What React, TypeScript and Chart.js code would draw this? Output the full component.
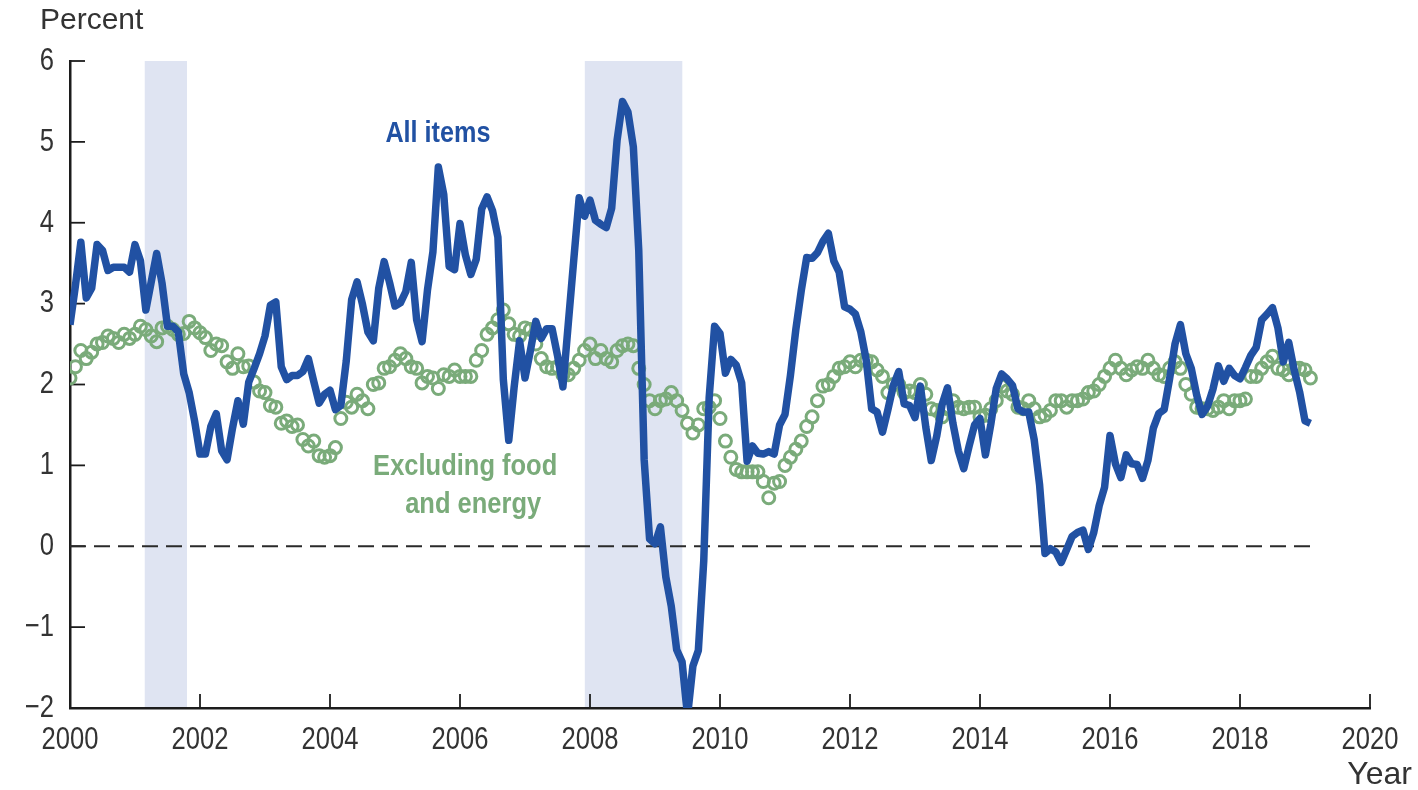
import React, { useEffect, useRef } from "react";
import { Chart, registerables } from "chart.js";

Chart.register(...registerables);

// Monthly data, starting January 2000
const START_YEAR = 2000;

// CPI-U all items, 12-month percent change
const allItems = [
  2.74, 3.22, 3.76, 3.07, 3.19, 3.73, 3.66, 3.41, 3.45, 3.45, 3.45, 3.39,
  3.73, 3.53, 2.92, 3.27, 3.62, 3.25, 2.72, 2.72, 2.65, 2.13, 1.9, 1.55,
  1.14, 1.14, 1.48, 1.64, 1.18, 1.07, 1.46, 1.8, 1.51, 2.03, 2.2, 2.38,
  2.6, 2.98, 3.02, 2.22, 2.06, 2.11, 2.11, 2.16, 2.32, 2.04, 1.77, 1.88,
  1.93, 1.69, 1.74, 2.29, 3.05, 3.27, 2.99, 2.65, 2.54, 3.19, 3.52, 3.26,
  2.97, 3.01, 3.15, 3.51, 2.8, 2.53, 3.17, 3.64, 4.69, 4.35, 3.46, 3.42,
  3.99, 3.6, 3.36, 3.55, 4.17, 4.32, 4.15, 3.82, 2.06, 1.31, 1.97, 2.54,
  2.08, 2.42, 2.78, 2.57, 2.69, 2.69, 2.36, 1.97, 2.76, 3.54, 4.31, 4.08,
  4.28, 4.03, 3.98, 3.94, 4.18, 5.02, 5.5, 5.37, 4.94, 3.66, 1.07, 0.09,
  0.03, 0.24, -0.38, -0.74, -1.28, -1.43, -2.1, -1.48, -1.29, -0.18, 1.84, 2.72,
  2.63, 2.14, 2.31, 2.24, 2.02, 1.05, 1.24, 1.15, 1.14, 1.17, 1.14, 1.5,
  1.63, 2.11, 2.68, 3.16, 3.57, 3.56, 3.63, 3.77, 3.87, 3.53, 3.39, 2.96,
  2.93, 2.87, 2.65, 2.3, 1.7, 1.66, 1.41, 1.69, 1.99, 2.16, 1.76, 1.74,
  1.59, 1.98, 1.47, 1.06, 1.36, 1.75, 1.96, 1.52, 1.18, 0.96, 1.24, 1.5,
  1.58, 1.13, 1.51, 1.95, 2.13, 2.07, 1.99, 1.7, 1.66, 1.66, 1.32, 0.76,
  -0.09, -0.03, -0.07, -0.2, -0.04, 0.12, 0.17, 0.2, -0.04, 0.17, 0.5, 0.73,
  1.37, 1.02, 0.85, 1.13, 1.02, 1.01, 0.84, 1.06, 1.46, 1.64, 1.69, 2.07,
  2.5, 2.74, 2.38, 2.2, 1.87, 1.63, 1.73, 1.94, 2.23, 2.04, 2.2, 2.11,
  2.07, 2.21, 2.36, 2.46, 2.8, 2.87, 2.95, 2.7, 2.28, 2.52, 2.18, 1.91,
  1.55, 1.52,
];

// CPI-U excluding food and energy, 12-month percent change
const coreItems = [
  2.08, 2.22, 2.42, 2.32, 2.4, 2.5, 2.52, 2.6, 2.57, 2.52, 2.62, 2.57,
  2.62, 2.72, 2.68, 2.6, 2.53, 2.7, 2.72, 2.68, 2.62, 2.63, 2.78, 2.7,
  2.64, 2.58, 2.42, 2.5, 2.48, 2.28, 2.2, 2.38, 2.22, 2.23, 2.03, 1.92,
  1.9, 1.74, 1.72, 1.52, 1.55, 1.48, 1.5, 1.32, 1.24, 1.3, 1.12, 1.1,
  1.12, 1.22, 1.58, 1.78, 1.72, 1.88, 1.8, 1.7, 2.0, 2.02, 2.2, 2.22,
  2.3, 2.38, 2.32, 2.22, 2.2, 2.02, 2.1, 2.08, 1.95, 2.12, 2.1, 2.18,
  2.1, 2.1, 2.1, 2.3, 2.42, 2.62, 2.7, 2.8, 2.92, 2.75, 2.62, 2.6,
  2.7, 2.68, 2.5, 2.32, 2.22, 2.2, 2.22, 2.12, 2.12, 2.2, 2.3, 2.42,
  2.5, 2.32, 2.42, 2.32, 2.28, 2.42, 2.48, 2.5, 2.48, 2.2, 2.0, 1.8,
  1.7, 1.8, 1.82, 1.9, 1.8, 1.68, 1.52, 1.4, 1.5, 1.7, 1.72, 1.8,
  1.58, 1.3, 1.1, 0.95, 0.92, 0.92, 0.92, 0.92, 0.8, 0.6, 0.78, 0.8,
  1.0, 1.1, 1.2, 1.3, 1.48, 1.6, 1.8, 1.98, 2.0, 2.1, 2.2, 2.22,
  2.28, 2.22, 2.3, 2.3, 2.28, 2.18, 2.1, 1.9, 2.0, 2.0, 1.9, 1.92,
  1.9, 2.0, 1.88, 1.7, 1.68, 1.6, 1.7, 1.8, 1.72, 1.7, 1.72, 1.72,
  1.6, 1.62, 1.7, 1.8, 1.98, 1.92, 1.88, 1.72, 1.7, 1.8, 1.7, 1.6,
  1.62, 1.68, 1.8, 1.8, 1.72, 1.8, 1.8, 1.82, 1.9, 1.92, 2.0, 2.1,
  2.2, 2.3, 2.2, 2.12, 2.18, 2.22, 2.2, 2.3, 2.2, 2.12, 2.1, 2.2,
  2.28, 2.2, 2.0, 1.88, 1.72, 1.7, 1.7, 1.68, 1.72, 1.8, 1.7, 1.8,
  1.8, 1.82, 2.1, 2.1, 2.2, 2.28, 2.35, 2.2, 2.18, 2.12, 2.2, 2.2,
  2.18, 2.08,
];

// Recession periods (shaded)
const recessionStarts = [2001.15, 2007.92];
const recessionEnds = [2001.8, 2009.42];

// Axis settings
const X_MIN = 2000;
const X_MAX = 2020;
const X_STEP = 2;
const Y_MIN = -2;
const Y_MAX = 6;
const Y_STEP = 1;

// Series labels (positioned in data units)
const labelAllItems = { text: ["All items"], x: 2005.66, y: 5.1 };
const labelCore = { text: ["Excluding food", "and energy"], x: 2006.08, y: 0.98 };

const BLUE = "#2151a3";
const GREEN = "#7aab7a";
const SHADE = "#dfe4f2";
const INK = "#333333";
const AXIS = "#1c1c1c";
const SANS = "'Liberation Sans', Arial, Helvetica, sans-serif";
const CONDENSE = 0.8;

const toPoints = (vals: number[]) => vals.map((v, i) => ({ x: START_YEAR + i / 12, y: v }));
const lastX = START_YEAR + (allItems.length - 1) / 12;
const zeroLine = [
  { x: START_YEAR, y: 0 },
  { x: lastX, y: 0 },
];

const fmtTick = (v: number) => (v < 0 ? "\u2212" + Math.abs(v) : String(v));

function condensedText(ctx: CanvasRenderingContext2D, text: string, x: number, y: number, sx: number) {
  ctx.save();
  ctx.translate(x, y);
  ctx.scale(sx, 1);
  ctx.fillText(text, 0, 0);
  ctx.restore();
}

const decorPlugin = {
  id: "decor",
  beforeDraw(chart: any) {
    const { ctx, chartArea, scales } = chart;
    const xs = scales.x;
    ctx.save();
    ctx.fillStyle = SHADE;
    for (let i = 0; i < recessionStarts.length; i++) {
      const x0 = xs.getPixelForValue(recessionStarts[i]);
      const x1 = xs.getPixelForValue(recessionEnds[i]);
      ctx.fillRect(x0, chartArea.top, x1 - x0, chartArea.bottom - chartArea.top);
    }
    ctx.restore();
  },
  beforeDatasetsDraw(chart: any) {
    const { ctx, chartArea, scales } = chart;
    ctx.save();
    ctx.strokeStyle = AXIS;
    ctx.lineWidth = 1.8;
    scales.x.ticks.forEach((t: any) => {
      const px = scales.x.getPixelForValue(t.value);
      if (Math.abs(px - chartArea.left) < 1) return;
      ctx.beginPath();
      ctx.moveTo(px, chartArea.bottom);
      ctx.lineTo(px, chartArea.bottom - 14);
      ctx.stroke();
    });
    scales.y.ticks.forEach((t: any) => {
      const py = scales.y.getPixelForValue(t.value);
      if (Math.abs(py - chartArea.bottom) < 1) return;
      ctx.beginPath();
      ctx.moveTo(chartArea.left, py);
      ctx.lineTo(chartArea.left + 15, py);
      ctx.stroke();
    });
    ctx.restore();
  },
  afterDraw(chart: any) {
    const { ctx, chartArea, scales } = chart;
    ctx.save();
    ctx.fillStyle = INK;
    ctx.textBaseline = "middle";

    // tick labels (condensed face)
    ctx.font = `32px ${SANS}`;
    ctx.textAlign = "center";
    scales.x.ticks.forEach((t: any) => {
      condensedText(ctx, fmtTick(t.value), scales.x.getPixelForValue(t.value), chartArea.bottom + 32, CONDENSE);
    });
    ctx.textAlign = "right";
    scales.y.ticks.forEach((t: any) => {
      condensedText(ctx, fmtTick(t.value), chartArea.left - 16, scales.y.getPixelForValue(t.value), CONDENSE);
    });

    // axis titles
    ctx.font = `30px ${SANS}`;
    ctx.textAlign = "left";
    ctx.fillText("Percent", chartArea.left - 30, 21);
    ctx.font = `32px ${SANS}`;
    ctx.textAlign = "right";
    ctx.fillText("Year", chartArea.right + 42, 775);

    // series labels
    ctx.textAlign = "center";
    ctx.font = `bold 30px ${SANS}`;
    ctx.fillStyle = BLUE;
    labelAllItems.text.forEach((line, i) => {
      condensedText(ctx, line, scales.x.getPixelForValue(labelAllItems.x), scales.y.getPixelForValue(labelAllItems.y) + i * 38, 0.84);
    });
    ctx.fillStyle = GREEN;
    labelCore.text.forEach((line, i) => {
      condensedText(ctx, line, scales.x.getPixelForValue(labelCore.x) + i * 8, scales.y.getPixelForValue(labelCore.y) + i * 38, 0.85);
    });
    ctx.restore();
  },
};

export default function App() {
  const canvasRef = useRef<HTMLCanvasElement | null>(null);

  useEffect(() => {
    const canvas = canvasRef.current;
    if (!canvas) return;
    const chart = new Chart(canvas, {
      type: "line",
      data: {
        datasets: [
          {
            label: "All items",
            data: toPoints(allItems),
            borderColor: BLUE,
            borderWidth: 7.5,
            borderJoinStyle: "round",
            pointRadius: 0,
            tension: 0,
            fill: false,
          },
          {
            label: "Excluding food and energy",
            data: toPoints(coreItems),
            showLine: false,
            pointRadius: 6,
            pointBorderWidth: 3,
            pointBorderColor: GREEN,
            pointBackgroundColor: "rgba(0,0,0,0)",
          },
          {
            label: "zero",
            data: zeroLine,
            borderColor: "#2a2a2a",
            borderWidth: 2,
            borderDash: [16, 8],
            pointRadius: 0,
            fill: false,
          },
        ],
      },
      options: {
        animation: false,
        responsive: false,
        devicePixelRatio: 1,
        layout: { padding: { top: 61, right: 48, bottom: 0, left: 0 } },
        plugins: { legend: { display: false }, tooltip: { enabled: false } },
        scales: {
          x: {
            type: "linear",
            min: X_MIN,
            max: X_MAX,
            grid: { display: false, drawTicks: false },
            border: { display: true, color: AXIS, width: 2.5 },
            ticks: { display: false, stepSize: X_STEP, autoSkip: false, maxRotation: 0 },
            afterFit: (s: any) => {
              s.height = 82;
            },
          },
          y: {
            type: "linear",
            min: Y_MIN,
            max: Y_MAX,
            grid: { display: false, drawTicks: false },
            border: { display: true, color: AXIS, width: 2.5 },
            ticks: { display: false, stepSize: Y_STEP },
            afterFit: (s: any) => {
              s.width = 70;
            },
          },
        },
      },
      plugins: [decorPlugin],
    });
    return () => chart.destroy();
  }, []);

  return (
    <div style={{ position: "fixed", left: 0, top: 0, width: 1418, height: 790, background: "#fff" }}>
      <canvas ref={canvasRef} width={1418} height={790} style={{ width: 1418, height: 790 }} />
    </div>
  );
}
